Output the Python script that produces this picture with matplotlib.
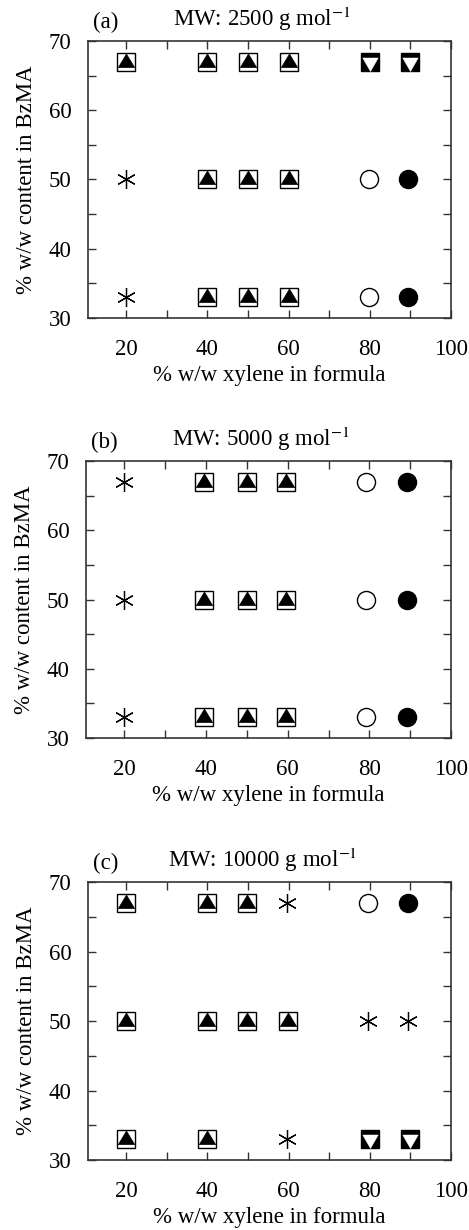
import matplotlib
matplotlib.use("Agg")
import matplotlib.pyplot as plt
from matplotlib.path import Path

plt.rcParams['font.family'] = ['Liberation Serif', 'DejaVu Serif']
plt.rcParams['mathtext.fontset'] = 'stix'
plt.rcParams['font.size'] = 16.5

# panel info
labels = ["(a)", "(b)", "(c)"]
mw = ["2500", "5000", "10000"]

# open square with filled up-triangle
a_sqtri_x = [20, 40, 50, 60, 40, 50, 60, 40, 50, 60]
a_sqtri_y = [67, 67, 67, 67, 50, 50, 50, 33, 33, 33]
a_ast_x = [20, 20]
a_ast_y = [50, 33]
a_dtri_x = [80, 90]
a_dtri_y = [67, 67]
a_ocirc_x = [79.7, 79.7]
a_ocirc_y = [50, 33]
a_fcirc_x = [89.4, 89.4]
a_fcirc_y = [50, 33]

b_sqtri_x = [39.5, 50, 59.5, 39.5, 50, 59.5, 39.5, 50, 59.5]
b_sqtri_y = [67, 67, 67, 50, 50, 50, 33, 33, 33]
b_ast_x = [20, 20, 20]
b_ast_y = [67, 50, 33]
b_dtri_x = []
b_dtri_y = []
b_ocirc_x = [79.3, 79.3, 79.3]
b_ocirc_y = [67, 50, 33]
b_fcirc_x = [89.3, 89.3, 89.3]
b_fcirc_y = [67, 50, 33]

c_sqtri_x = [20, 39.8, 49.8, 20, 39.8, 49.8, 59.8, 20, 39.8]
c_sqtri_y = [67, 67, 67, 50, 50, 50, 50, 33, 33]
c_ast_x = [59.5, 79.5, 89.5, 59.7]
c_ast_y = [67, 50, 50, 33]
c_dtri_x = [80, 90]
c_dtri_y = [33, 33]
c_ocirc_x = [79.5]
c_ocirc_y = [67]
c_fcirc_x = [89.5]
c_fcirc_y = [67]

panels = [
    (a_sqtri_x, a_sqtri_y, a_ast_x, a_ast_y, a_dtri_x, a_dtri_y, a_ocirc_x, a_ocirc_y, a_fcirc_x, a_fcirc_y),
    (b_sqtri_x, b_sqtri_y, b_ast_x, b_ast_y, b_dtri_x, b_dtri_y, b_ocirc_x, b_ocirc_y, b_fcirc_x, b_fcirc_y),
    (c_sqtri_x, c_sqtri_y, c_ast_x, c_ast_y, c_dtri_x, c_dtri_y, c_ocirc_x, c_ocirc_y, c_fcirc_x, c_fcirc_y),
]

# custom triangles (not centred, so they sit inside the squares like the original)
up_tri = Path([(0, 0.47), (-0.45, -0.28), (0.45, -0.28), (0, 0.47)],
              [Path.MOVETO, Path.LINETO, Path.LINETO, Path.CLOSEPOLY])
down_tri = Path([(-0.43, 0.25), (0.43, 0.25), (0, -0.5), (-0.43, 0.25)],
                [Path.MOVETO, Path.LINETO, Path.LINETO, Path.CLOSEPOLY])

S = 13  # marker size (pt)

fig = plt.figure(figsize=(4.69, 12.3), dpi=100)
boxes = [
    [0.1876, 0.7415, 0.774, 0.2252],
    [0.1834, 0.4000, 0.7782, 0.2252],
    [0.1876, 0.0569, 0.774, 0.2260],
]

for i in range(3):
    ax = fig.add_axes(boxes[i])
    sx, sy, ax_, ay, dx, dy, ox, oy, fx, fy = panels[i]

    ax.plot(sx, sy, ls='none', marker='s', ms=S, mfc='white', mec='black', mew=1.0)
    ax.plot(sx, sy, ls='none', marker=up_tri, ms=S * 0.94, mfc='black', mec='black', mew=0.5)
    ax.plot(ax_, ay, ls='none', marker=(6, 2, 0), ms=S * 1.05, mec='black', mew=0.9)
    ax.plot(dx, dy, ls='none', marker='s', ms=S, mfc='black', mec='black', mew=1.0)
    ax.plot(dx, dy, ls='none', marker=down_tri, ms=S, mfc='white', mec='white', mew=0.3)
    ax.plot(ox, oy, ls='none', marker='o', ms=S, mfc='white', mec='black', mew=1.0)
    ax.plot(fx, fy, ls='none', marker='o', ms=S, mfc='black', mec='black', mew=1.0)

    ax.set_xlim(10.6, 100)
    ax.set_ylim(30, 70)
    ax.set_xticks([20, 40, 60, 80, 100])
    ax.set_xticks([30, 50, 70, 90], minor=True)
    ax.set_yticks([30, 40, 50, 60, 70])
    ax.set_yticks([35, 45, 55, 65], minor=True)
    ax.tick_params(which='both', direction='in', top=True, right=True,
                   length=6, width=1.0, color='#333333')
    ax.tick_params(axis='x', which='major', pad=15)
    ax.tick_params(axis='y', which='major', pad=12)
    for sp in ax.spines.values():
        sp.set_linewidth(1.2)
        sp.set_color('#333333')

    ax.set_xlabel("% w/w xylene in formula", labelpad=4)
    ax.set_ylabel("% w/w content in BzMA", labelpad=8)
    ax.text(0.013, 1.03, labels[i], transform=ax.transAxes, ha='left', va='bottom')
    ax.text(0.48, 1.03, "MW: " + mw[i] + r" g mol$^{-1}$", transform=ax.transAxes,
            ha='center', va='bottom')

fig.savefig("out.png", dpi=100)
